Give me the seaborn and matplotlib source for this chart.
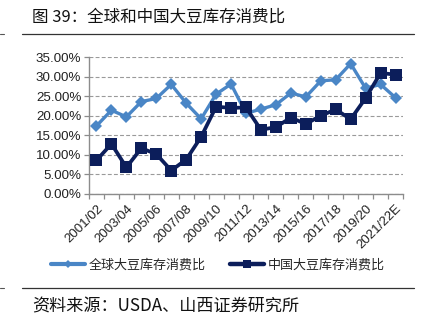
import matplotlib
matplotlib.use("Agg")
import matplotlib.pyplot as plt
from matplotlib.lines import Line2D
from matplotlib.ticker import FuncFormatter, MultipleLocator
import seaborn as sns
import pandas as pd

# Marketing years
years = ["2001/02", "2002/03", "2003/04", "2004/05", "2005/06", "2006/07",
         "2007/08", "2008/09", "2009/10", "2010/11", "2011/12", "2012/13",
         "2013/14", "2014/15", "2015/16", "2016/17", "2017/18", "2018/19",
         "2019/20", "2020/21", "2021/22E"]

# Stock-to-use ratio, %
world = [17.4, 21.4, 19.7, 23.6, 24.4, 28.0, 23.2, 19.2, 25.5, 28.1, 20.6,
         21.7, 22.8, 25.8, 24.8, 28.9, 29.2, 33.3, 27.0, 28.0, 24.6]
china = [8.6, 12.8, 6.8, 11.7, 10.2, 6.0, 8.8, 14.6, 22.3, 22.0, 22.1,
         16.4, 17.1, 19.5, 17.9, 20.0, 21.6, 19.1, 24.5, 30.9, 30.5]

world_label = "全球大豆库存消费比"
china_label = "中国大豆库存消费比"
title = "图 39：全球和中国大豆库存消费比"
source = "资料来源：USDA、山西证券研究所"

world_color = "#4A86C6"
china_color = "#0C1E5B"

df = pd.DataFrame({"pos": range(len(years)), "world": world, "china": china})

sns.set_theme(style="white")
plt.rcParams["font.family"] = ["Liberation Sans", "Noto Sans CJK SC", "DejaVu Sans"]

fig = plt.figure(figsize=(4.34, 3.26), dpi=100)
ax = fig.add_axes([89 / 434, 1 - 194 / 326, 314 / 434, 137 / 326])

sns.lineplot(data=df, x="pos", y="world", ax=ax, color=world_color,
             linewidth=2.4, marker="D", markersize=6.6, markeredgewidth=0,
             zorder=3)
sns.lineplot(data=df, x="pos", y="china", ax=ax, color=china_color,
             linewidth=2.7, marker="s", markersize=8.0, markeredgewidth=0,
             zorder=4)

ax.set_xlim(-0.5, len(years) - 0.5)
ax.set_ylim(0, 35)
ax.set_xlabel("")
ax.set_ylabel("")

# y axis: percent labels, dashed grid
ax.yaxis.set_major_locator(MultipleLocator(5))
ax.yaxis.set_major_formatter(FuncFormatter(lambda v, _: f"{v:.2f}%"))
ax.grid(axis="y", color="#9a9a9a", linestyle=(0, (3.5, 2)), linewidth=0.8)
ax.grid(axis="x", visible=False)
ax.set_axisbelow(True)

# x axis: labels every other year, tick marks at category boundaries
ax.set_xticks(range(0, len(years), 2))
ax.set_xticklabels(years[::2], rotation=45, ha="right", rotation_mode="anchor")
ax.set_xticks([i - 0.5 for i in range(len(years) + 1)], minor=True)
ax.tick_params(axis="x", which="major", length=0, pad=6, labelsize=9.5,
               colors="#222222")
ax.tick_params(axis="x", which="minor", length=3.5, width=0.9,
               color="#8c8c8c", direction="out", bottom=True)
ax.tick_params(axis="y", which="major", length=3.5, width=0.9,
               color="#8c8c8c", direction="out", left=True, pad=2,
               labelsize=9.6, labelcolor="#222222")

for side in ("top", "right"):
    ax.spines[side].set_visible(False)
for side in ("left", "bottom"):
    ax.spines[side].set_color("#8c8c8c")
    ax.spines[side].set_linewidth(1.0)
if ax.get_legend() is not None:
    ax.get_legend().remove()

handles = [
    Line2D([], [], color=world_color, linewidth=3, marker="D",
           markersize=4.5, markeredgewidth=0),
    Line2D([], [], color=china_color, linewidth=3.2, marker="s",
           markersize=5.5, markeredgewidth=0),
]
fig.legend(handles, [world_label, china_label], loc="center",
           bbox_to_anchor=(0.502, 1 - 265 / 326), ncol=2, frameon=False,
           handlelength=2.6, handletextpad=0.3, columnspacing=1.9,
           prop={"family": ["Noto Sans CJK SC", "DejaVu Sans"], "size": 9.4})

# Title, rules and source note
fig.text(32 / 434, 1 - 17 / 326, title, ha="left", va="center",
         fontsize=11.9, color="#111111",
         family=["Noto Sans CJK SC", "DejaVu Sans"])
fig.text(32 / 434, 1 - 306 / 326, source, ha="left", va="center",
         fontsize=12.3, color="#111111",
         family=["Noto Sans CJK SC", "DejaVu Sans"])
for y in (34, 287.5):
    fig.add_artist(Line2D([22 / 434, 414 / 434], [1 - y / 326, 1 - y / 326],
                          color="#333333", linewidth=0.9))
    fig.add_artist(Line2D([0, 4 / 434], [1 - y / 326, 1 - y / 326],
                          color="#555555", linewidth=0.8))

fig.savefig("out.png", dpi=100)
